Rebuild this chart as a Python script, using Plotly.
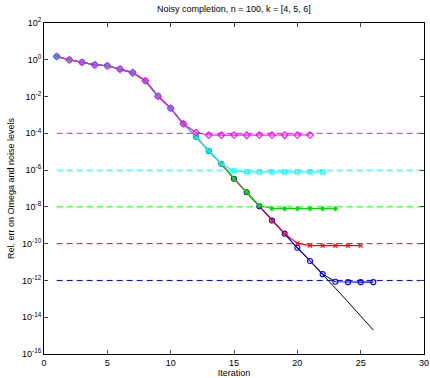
import plotly.graph_objects as go

iterations = list(range(1, 27))
# noiseless relative error (black line)
base_err = [1.5, 1.0, 0.74, 0.53, 0.47, 0.31, 0.2, 0.072, 0.0105, 2.3e-3, 3.3e-4,
            6.6e-5, 1.1e-5, 2.2e-6, 3.4e-7, 6.2e-8, 1.07e-8, 1.8e-9, 3.5e-10,
            6.0e-11, 1.15e-11, 2.2e-12, 3.8e-13, 6.8e-14, 1.2e-14, 2.0e-15]

err_1e4 = base_err[:11] + [1.1e-4, 8.1e-5, 8.0e-5, 8.1e-5, 8.0e-5, 8.1e-5, 8.1e-5, 8.0e-5, 8.1e-5, 8.1e-5]
err_1e6 = base_err[:14] + [9.1e-7, 8.0e-7, 8.0e-7, 8.0e-7, 8.0e-7, 8.0e-7, 8.0e-7, 8.0e-7]
err_1e8 = base_err[:16] + [1.2e-8, 8.1e-9, 8.1e-9, 8.1e-9, 8.1e-9, 8.1e-9, 8.1e-9]
err_1e10 = base_err[:19] + [1.05e-10, 7.8e-11, 7.8e-11, 7.8e-11, 7.8e-11, 7.8e-11]
err_1e12 = base_err[:22] + [8.5e-13, 8.1e-13, 8.1e-13, 8.1e-13]

noise_levels = [1e-4, 1e-6, 1e-8, 1e-10, 1e-12]
noise_x = [1, 30]

x_ticks = [0, 5, 10, 15, 20, 25, 30]
y_exps = [2, 0, -2, -4, -6, -8, -10, -12, -14, -16]

series = [
    (err_1e12, "#0000ff", "circle-open", 5),
    (err_1e10, "#ff0000", "x-thin-open", 4),
    (err_1e8, "#00dd00", "asterisk-open", 4),
    (err_1e6, "#00ffff", "square-open", 4),
    (err_1e4, "#ff00ff", "diamond-open", 5),
]
noise_colors = ["#ff00ff", "#00ffff", "#00ff00", "#ff0000", "#0000ff"]

fig = go.Figure()

# dashed noise level lines
for lvl, c in zip(noise_levels, noise_colors):
    fig.add_trace(go.Scatter(x=noise_x, y=[lvl, lvl], mode="lines",
                             line=dict(color=c, width=1, dash="6px,4px"),
                             showlegend=False, hoverinfo="skip"))

# noiseless
fig.add_trace(go.Scatter(x=iterations, y=base_err, mode="lines",
                         line=dict(color="black", width=1), showlegend=False))

for ys, c, sym, sz in series:
    fig.add_trace(go.Scatter(x=iterations[:len(ys)], y=ys, mode="lines+markers",
                             line=dict(color=c, width=1.1),
                             marker=dict(symbol=sym, size=sz, color=c,
                                         line=dict(color=c, width=1.1)),
                             showlegend=False))

font = dict(family="Liberation Sans, Arial, sans-serif", size=9, color="black")

fig.update_layout(
    width=430, height=378,
    margin=dict(l=44, r=6, t=23, b=24),
    paper_bgcolor="white", plot_bgcolor="white",
    font=font,
    title=dict(text="Noisy completion, n = 100, k = [4, 5, 6]", x=0.544, xanchor="center",
               y=0.976, yanchor="middle", font=dict(size=9)),
    showlegend=False,
)
fig.update_xaxes(range=[0, 30], tickvals=x_ticks, ticks="inside", ticklen=4,
                 showgrid=False, zeroline=False, showline=True, linecolor="black",
                 linewidth=1, mirror="ticks", tickfont=dict(size=9), automargin=False,
                 title=dict(text="Iteration", font=dict(size=9), standoff=5))
fig.update_yaxes(type="log", range=[-16, 2], tickvals=[10.0 ** e for e in y_exps],
                 ticktext=["10<sup>%d</sup>" % e for e in y_exps],
                 ticks="inside", ticklen=4, showgrid=False, zeroline=False,
                 showline=True, linecolor="black", linewidth=1, mirror="ticks",
                 tickfont=dict(size=9), automargin=False,
                 title=dict(text="Rel. err on Omega and noise levels", font=dict(size=9), standoff=5))

fig.write_html("out.html")
